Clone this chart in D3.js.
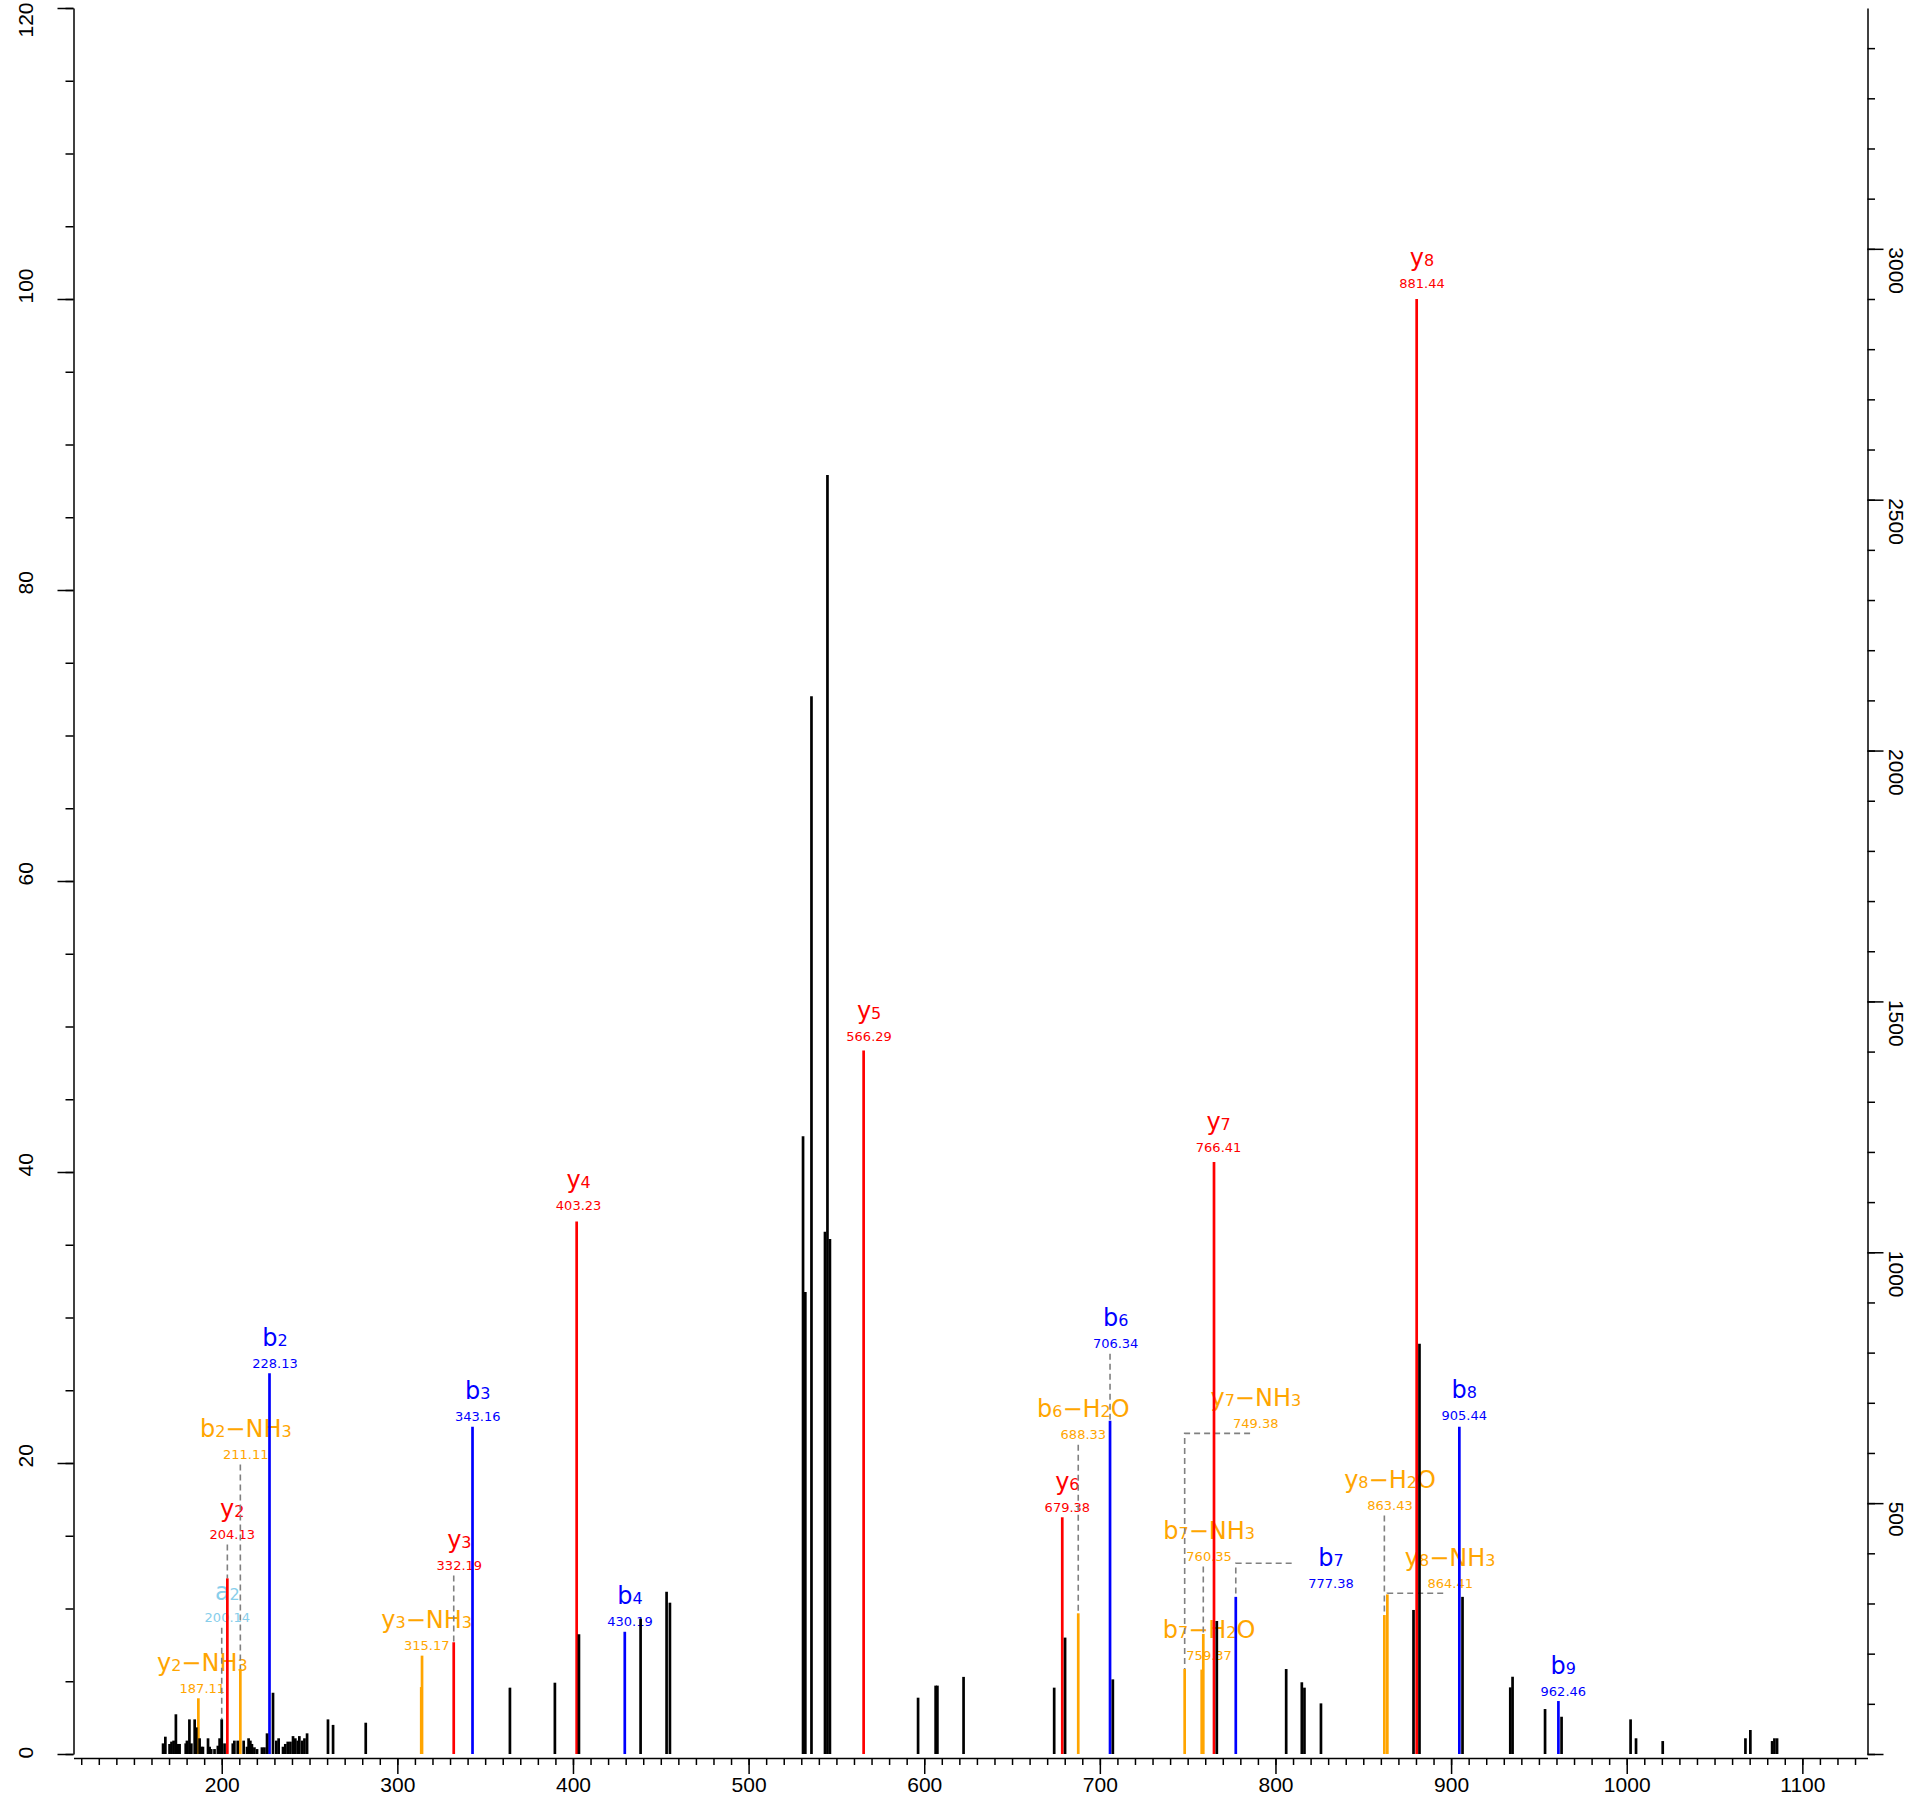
<!DOCTYPE html>
<html><head><meta charset="utf-8">
<script src="https://cdn.jsdelivr.net/npm/d3@7"></script>
<style>body{margin:0;background:#fff}svg{display:block}</style>
</head><body>
<script>
// ---------- DATA ----------
// unannotated (black) peaks: m/z and relative intensity (%)
const peakMz = [166.6,167.9,170.3,171.4,172.6,173.9,175.2,176.0,179.5,180.2,181.6,182.7,184.6,185.5,187.4,188.4,189.3,192.2,193.1,194.0,195.9,197.8,198.8,200.0,201.6,206.3,207.2,209.1,212.5,214.4,215.3,216.3,217.2,218.6,220.1,222.9,224.3,225.8,229.2,231.1,232.4,234.9,236.2,237.6,239.1,240.6,241.9,243.3,244.2,245.8,247.1,248.6,260.5,263.4,282.0,364.1,389.7,403.4,438.5,453.3,455.2,531.0,532.3,535.8,543.5,544.9,546.3,596.5,606.5,607.5,622.4,674.0,680.2,707.4,766.6,806.1,815.0,816.5,825.9,878.6,882.0,906.5,933.7,935.0,953.5,962.9,1002.2,1005.3,1020.5,1067.6,1070.4,1082.8,1084.1,1085.6];
const peakInt = [0.73,1.19,0.69,0.85,0.92,2.73,0.69,0.69,0.73,0.92,2.38,0.73,2.38,1.83,1.08,0.5,0.5,1.08,0.5,0.34,0.34,0.57,1.08,2.38,0.73,0.73,0.92,0.92,0.92,0.5,1.08,0.92,0.69,0.46,0.34,0.46,0.46,1.42,4.21,0.92,1.08,0.5,0.69,0.85,0.85,1.23,1.08,0.92,1.23,0.92,1.08,1.42,2.38,2.0,2.15,4.56,4.9,8.23,9.3,11.15,10.4,42.45,31.75,72.7,35.9,87.9,35.4,3.87,4.7,4.7,5.3,4.56,8.0,5.13,9.14,5.84,4.93,4.56,3.48,9.9,28.2,10.8,4.58,5.31,3.09,2.56,2.38,1.08,0.89,1.08,1.65,0.89,1.08,1.08];

// annotated fragment ions
const ionName   = ["y2-NH3","a2","y2","b2-NH3","b2","y3-NH3","y3","b3","y4","b4","y5","y6","b6-H2O","b6","y7-NH3","b7-H2O","b7-NH3","y7","b7","y8-H2O","y8-NH3","y8","b8","b9"];
const ionMzText = ["187.11","200.14","204.13","211.11","228.13","315.17","332.19","343.16","403.23","430.19","566.29","679.38","688.33","706.34","749.38","759.37","760.35","766.41","777.38","863.43","864.41","881.44","905.44","962.46"];
const ionObsMz  = [186.7,200.0,203.2,210.6,227.2,314.05,332.1,342.8,402.1,429.5,565.5,678.6,687.7,705.8,748.3,758.0,758.9,765.0,777.4,862.0,863.7,880.4,904.7,961.1];
const ionInt    = [3.83,2.38,12.07,5.85,26.16,6.76,7.68,22.5,36.6,8.4,48.35,16.27,9.67,22.9,5.84,5.8,8.25,40.69,10.8,9.55,10.97,100,22.5,3.64];

// extra neutral-loss coloured peak (unlabelled)
const lossPeakMz  = [313.6];
const lossPeakInt = [4.6];

// absolute intensity of the base peak (right axis)
const basePeakIntensity = 2900;

// tick values
const xMajorTicks = [200,300,400,500,600,700,800,900,1000,1100];
const leftTicks   = [0,20,40,60,80,100,120];
const rightTicks  = [0,500,1000,1500,2000,2500,3000];

// ---------- LABEL LAYOUT (data units) ----------
const labelMz  = [188.95,203.2,206.0,213.7,230.3,316.7,335.3,345.8,403.2,432.5,568.6,681.5,690.6,709.0,788.8,762.2,762.2,767.6,831.6,865.2,899.5,883.4,907.5,963.9];
const labelInt = [4.17,9.05,14.78,20.27,26.55,7.15,12.65,22.91,37.39,8.82,49.0,16.65,21.63,27.88,22.38,6.46,13.26,41.37,11.43,16.77,11.39,100.76,22.96,4.0];
const connType = ['none','v','v','v','none','none','v','none','none','none','none','none','v','v','elbow','none','v','none','elbow','v','elbow','none','none','none'];
const connDx   = [0,0,0,0,0,0,0,0,0,0,0,0,0,0,-5.7,0,0,0,-39.3,0,-7,0,0,0];
const connDy   = [0,0,0,0,0,0,0,0,0,0,0,0,0,0,5,0,0,0,-24.4,0,5,0,0,0];

// ---------- DRAW ----------
const W=1922,H=1808;
const svg=d3.select('body').append('svg').attr('width',W).attr('height',H);
svg.append('rect').attr('width',W).attr('height',H).attr('fill','#fff');

const x=d3.scaleLinear().domain([115.6,1137.1]).range([73.5,1867.5]);
const y=d3.scaleLinear().domain([0,120]).range([1754,8]);
const yR=d3.scaleLinear().domain([0,1.2*basePeakIntensity]).range([1754,8]);

const colorOf = n => n.includes('-') ? '#FFA500' : (n[0]==='y' ? '#FF0000' : (n[0]==='b' ? '#0000FF' : '#87CEEB'));
const axisFont = '"Liberation Sans", Arial, Helvetica, sans-serif';
const lblFont = '"DejaVu Sans", "Noto Sans", sans-serif';

function styleAxis(g){
  g.selectAll('path,line').attr('stroke','#000').attr('stroke-width',1.5);
  g.selectAll('text').attr('fill','#000').attr('font-family',axisFont).attr('font-size',21);
}

// x axis
const gx=svg.append('g').attr('transform','translate(0,1758)');
gx.append('g').call(d3.axisBottom(x).tickValues(d3.range(120,1131,10)).tickSize(7).tickSizeOuter(0).tickFormat('')).call(styleAxis);
gx.append('g').call(d3.axisBottom(x).tickValues(xMajorTicks).tickSize(16).tickSizeOuter(0).tickFormat(d3.format('d')))
  .call(g=>g.select('.domain').remove()).call(styleAxis)
  .call(g=>g.selectAll('.tick text').attr('y',34).attr('dy',null));

// left axis
const gl=svg.append('g').attr('transform','translate(73.5,0)');
gl.append('g').call(d3.axisLeft(y).tickValues(d3.range(0,121,5)).tickSize(8).tickSizeOuter(0).tickFormat('')).call(styleAxis);
gl.append('g').call(d3.axisLeft(y).tickValues(leftTicks).tickSize(16).tickSizeOuter(0).tickFormat(d3.format('d')))
  .call(g=>g.select('.domain').remove()).call(styleAxis)
  .call(g=>g.selectAll('.tick text').attr('x',null).attr('dy',null)
     .attr('text-anchor',d=>d===120?'end':'start')
     .attr('transform',d=>d===120?'translate(-40.5,-6) rotate(-90)':'translate(-40.5,4) rotate(-90)'));

// right axis
const gr=svg.append('g').attr('transform','translate(1867.5,0)');
gr.append('g').call(d3.axisRight(yR).tickValues(d3.range(0,3401,100)).tickSize(7.5).tickSizeOuter(0).tickFormat('')).call(styleAxis);
gr.append('g').call(d3.axisRight(yR).tickValues(rightTicks).tickSize(16).tickSizeOuter(0).tickFormat(d=>d===0?'':d3.format('d')(d)))
  .call(g=>g.select('.domain').remove()).call(styleAxis)
  .call(g=>g.selectAll('.tick text').attr('x',null).attr('dy',null).attr('text-anchor','start')
     .attr('transform','translate(21,-2) rotate(90)'));

// labels
const ions = ionName.map((n,i)=>({name:n, txt:ionMzText[i], mz:ionObsMz[i], v:ionInt[i], lx:labelMz[i], lv:labelInt[i], ct:connType[i], dx:connDx[i], dy:connDy[i], col:colorOf(n)}));

const gLab = svg.append('g');
ions.forEach(d=>{
  const g = gLab.append('g').attr('transform',`translate(${x(d.lx)},${y(d.lv)})`);
  g.append('text').attr('text-anchor','middle').attr('font-family',lblFont).attr('font-size',13).attr('fill',d.col).text(d.txt);
  const t = g.append('text').attr('text-anchor','middle').attr('y',-22).attr('font-family',lblFont).attr('fill',d.col);
  d.name.replace('-','\u2212').match(/\d+|\D+/g).forEach(p=>{
    t.append('tspan').attr('font-size', /\d/.test(p)?16:24).text(p);
  });
});

// connectors
const gCon = svg.append('g').attr('fill','none').attr('stroke','#808080').attr('stroke-width',1.6).attr('stroke-dasharray','6,4');
ions.forEach(d=>{
  const px=x(d.mz), py=y(d.v), ly=y(d.lv);
  if(d.ct==='v'){
    gCon.append('path').attr('d',`M${px},${ly+5.5}V${py}`);
  } else if(d.ct==='elbow'){
    const ey=ly+d.dy;
    gCon.append('path').attr('d',`M${x(d.lx)+d.dx},${ey}H${px}V${py}`);
  }
});

// coloured peaks
const gPk = svg.append('g').attr('stroke-width',2.7);
gPk.selectAll('line.ion').data(ions).join('line').attr('class','ion')
  .attr('x1',d=>x(d.mz)).attr('x2',d=>x(d.mz)).attr('y1',y(0)).attr('y2',d=>y(d.v)).attr('stroke',d=>d.col);
gPk.selectAll('line.loss').data(lossPeakMz.map((m,i)=>({m,v:lossPeakInt[i]}))).join('line').attr('class','loss')
  .attr('x1',d=>x(d.m)).attr('x2',d=>x(d.m)).attr('y1',y(0)).attr('y2',d=>y(d.v)).attr('stroke','#FFA500');
// black peaks
gPk.selectAll('line.pk').data(peakMz.map((m,i)=>({m,v:peakInt[i]}))).join('line').attr('class','pk')
  .attr('x1',d=>x(d.m)).attr('x2',d=>x(d.m)).attr('y1',y(0)).attr('y2',d=>y(d.v)).attr('stroke','#000');
</script>
</body></html>
